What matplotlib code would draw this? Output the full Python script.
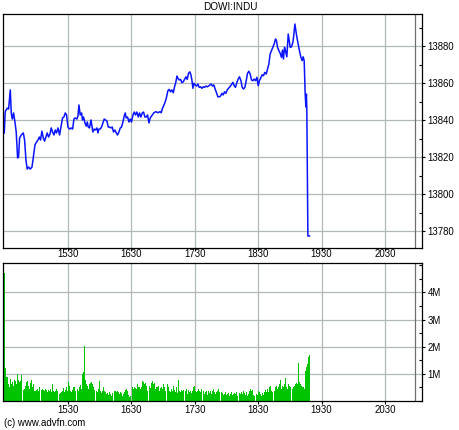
import numpy as np
import matplotlib
matplotlib.use("Agg")
import matplotlib.pyplot as plt
from matplotlib.ticker import FixedLocator, MultipleLocator, FuncFormatter

plt.rcParams['font.family'] = ['Liberation Sans', 'DejaVu Sans']

# ── data ──────────────────────────────────────────────────────────────────────
# price: minutes after 14:30, index level
price_t = [
    0.0, 0.9, 2.8, 4.1, 5.7, 6.6, 7.6, 8.8, 10.1, 11.3, 12.6, 13.5, 14.5, 16.1,
    18.0, 19.2, 20.5, 21.7, 23.0, 24.6, 26.2, 27.4, 29.0, 30.5, 31.9, 33.1, 34.3,
    35.6, 36.9, 38.1, 39.4, 40.6, 41.9, 43.2, 44.4, 45.7, 47.0, 48.2, 49.4, 50.8,
    52.3, 53.9, 55.1, 56.4, 57.7, 58.9, 60.2, 61.7, 63.3, 64.6, 65.9, 67.1, 68.7,
    69.7, 70.6, 71.8, 73.1, 74.0, 75.0, 76.3, 77.5, 78.5, 79.4, 80.6, 82.0, 82.9,
    83.8, 85.1, 86.3, 87.6, 88.6, 89.5, 90.7, 92.0, 93.3, 94.5, 95.8, 97.1, 98.3,
    99.5, 100.9, 102.1, 103.3, 104.6, 105.9, 107.1, 108.4, 109.7, 110.9, 112.2,
    113.4, 114.4, 115.3, 116.6, 117.9, 119.1, 120.3, 121.7, 122.9, 124.1, 125.4,
    126.7, 127.9, 129.2, 130.5, 131.7, 133.0, 134.2, 135.5, 136.8, 138.0, 139.2,
    140.6, 141.5, 143.4, 145.3, 147.2, 148.4, 149.6, 151.0, 152.2, 153.4, 154.7,
    156.0, 157.2, 158.5, 159.8, 161.0, 162.3, 163.3, 164.2, 165.4, 166.7, 168.0,
    169.2, 170.4, 171.8, 173.0, 174.2, 175.5, 176.5, 177.4, 178.4, 179.3, 180.5,
    181.8, 183.1, 184.3, 185.6, 186.9, 188.1, 189.3, 190.7, 191.9, 193.1, 194.5,
    195.7, 196.9, 198.2, 199.5, 200.7, 202.0, 203.2, 204.5, 205.8, 207.0, 208.3,
    209.6, 210.8, 212.0, 213.4, 214.7, 216.2, 217.4, 218.6, 220.0, 221.2, 222.4,
    223.8, 225.0, 226.2, 227.5, 228.8, 230.0, 231.3, 232.5, 233.8, 235.1, 236.3,
    237.6, 238.9, 240.1, 241.3, 242.7, 243.9, 245.1, 246.4, 247.7, 248.9, 250.2,
    251.4, 252.7, 254.0, 255.2, 256.5, 257.4, 258.4, 259.7, 260.9, 262.1, 263.1,
    264.0, 265.0, 265.9, 267.2, 268.5, 269.4, 270.4, 271.6, 272.9, 273.9, 274.8,
    275.7, 276.7, 277.9, 279.1, 280.5, 281.7, 282.6, 283.6, 284.5, 285.2, 285.7,
    286.1, 287.1, 288.6,
]
price_v = [
    13833.1, 13844.6, 13846.5, 13846.0, 13856.3, 13843.9, 13840.6, 13843.9,
    13839.0, 13833.6, 13819.6, 13820.1, 13830.4, 13832.0, 13833.1, 13829.3,
    13818.5, 13813.6, 13814.7, 13813.6, 13814.7, 13819.6, 13826.6, 13828.2,
    13829.3, 13830.9, 13829.3, 13834.1, 13830.4, 13828.7, 13830.9, 13833.1,
    13830.9, 13832.5, 13835.8, 13833.6, 13832.0, 13834.7, 13833.1, 13835.8,
    13832.0, 13837.4, 13841.2, 13841.7, 13843.9, 13842.8, 13836.3, 13835.2,
    13835.8, 13835.2, 13840.6, 13841.2, 13840.6, 13842.2, 13848.2, 13842.8,
    13843.9, 13840.1, 13841.7, 13838.5, 13836.8, 13839.0, 13836.3, 13835.8,
    13840.1, 13836.8, 13833.6, 13835.2, 13834.7, 13835.8, 13833.1, 13835.2,
    13835.2, 13836.3, 13838.5, 13840.6, 13840.1, 13839.5, 13836.3, 13836.3,
    13835.8, 13836.3, 13833.6, 13834.7, 13833.1, 13832.0, 13833.6, 13835.8,
    13836.3, 13839.0, 13842.2, 13843.9, 13841.2, 13841.7, 13839.0, 13840.6,
    13839.0, 13842.8, 13844.4, 13842.8, 13844.4, 13841.7, 13843.9, 13841.7,
    13843.9, 13844.4, 13841.7, 13841.7, 13842.8, 13838.5, 13841.2, 13842.2,
    13843.3, 13844.0, 13844.6, 13844.0, 13844.6, 13844.0, 13846.4, 13848.2,
    13849.9, 13852.3, 13855.9, 13856.6, 13855.3, 13856.3, 13854.8, 13858.0,
    13860.7, 13863.8, 13862.6, 13861.7, 13862.0, 13860.2, 13860.7, 13862.0,
    13863.4, 13862.0, 13865.3, 13866.1, 13864.4, 13861.7, 13857.2, 13859.9,
    13859.0, 13858.4, 13859.5, 13857.7, 13858.0, 13857.2, 13858.0, 13857.7,
    13858.4, 13858.0, 13858.4, 13859.0, 13859.5, 13858.4, 13859.0, 13856.6,
    13854.8, 13852.6, 13852.6, 13853.0, 13854.5, 13853.6, 13855.3, 13854.5,
    13856.3, 13857.2, 13858.0, 13859.1, 13860.4, 13858.6, 13857.7, 13860.4,
    13862.2, 13863.4, 13861.3, 13857.7, 13856.8, 13857.7, 13861.3, 13865.3,
    13866.4, 13864.9, 13861.7, 13861.3, 13862.2, 13861.3, 13863.1, 13858.6,
    13861.3, 13863.1, 13864.5, 13864.0, 13865.8, 13864.9, 13867.6, 13870.3,
    13875.7, 13877.5, 13879.3, 13881.1, 13883.8, 13882.9, 13879.3, 13877.5,
    13876.1, 13873.9, 13877.8, 13873.0, 13879.3, 13877.5, 13874.2, 13886.5,
    13882.9, 13879.3, 13879.6, 13882.0, 13886.5, 13891.9, 13888.3, 13884.7,
    13881.1, 13877.5, 13873.9, 13872.1, 13874.2, 13872.1, 13854.6, 13847.1,
    13854.1, 13845.5, 13777.5, 13777.5,
]

# volume per bar (millions), bars run from 14:30 to about 19:18
volume_m = [
    4.7, 1.2, 0.9, 0.9, 0.63, 0.5, 0.81, 0.63, 0.69, 0.57, 0.78, 0.73, 0.63, 1.0,
    0.78, 0.69, 0.75, 0.94, 0, 0.41, 0.44, 0.57, 0.69, 0.73, 0.57, 0.44, 0.65,
    0.78, 0.5, 0.63, 0.38, 0.36, 0.41, 0.44, 0.38, 0.5, 0, 0.41, 0.44, 0.41,
    0.36, 0.44, 0.41, 0.32, 0.41, 0.36, 0.44, 0.32, 0.63, 0.38, 0.32, 0.38,
    0.44, 0.38, 0, 0.26, 0.28, 0.32, 0.38, 0.48, 0.32, 0.41, 0.5, 0.38, 0.69,
    0.57, 0.38, 0.32, 0.41, 0.5, 0.53, 0.38, 0, 0.44, 0.38, 0.5, 0.6, 0.44,
    1.0, 1.06, 2.01, 0.78, 0.63, 0.57, 0.44, 0.63, 0.65, 0.69, 0.63, 0.5, 0.41,
    0, 0.38, 0.32, 0.44, 0.73, 0.38, 0.28, 0.38, 0.5, 0.38, 0.32, 0.26, 0.28,
    0.23, 0.32, 0.26, 0.2, 0.28, 0, 0.36, 0.38, 0.32, 0.36, 0.32, 0.26, 0.32,
    0.28, 0.2, 0.26, 0.32, 0.41, 0.44, 0.38, 0.23, 0.16, 0.2, 0, 0.5, 0.44,
    0.53, 0.48, 0.44, 0.63, 0.53, 0.5, 0.44, 0.5, 0.73, 0.69, 0.63, 0.65, 0.57,
    0.38, 0, 0.57, 0.48, 0.65, 0.75, 0.63, 0.65, 0.44, 0.5, 0.5, 0.55, 0.38,
    0.48, 0.5, 0.44, 0.63, 0.5, 0.38, 0, 0.63, 0.53, 0.38, 0.32, 0.44, 0.38,
    0.57, 0.41, 0.32, 0.5, 0.28, 0.78, 0.38, 0.32, 0.41, 0.36, 0.41, 0, 0.38,
    0.44, 0.26, 0.41, 0.32, 0.38, 0.28, 0.38, 0.5, 0.57, 0.38, 0.32, 0.38,
    0.44, 0.38, 0.32, 0.44, 0, 0.38, 0.26, 0.32, 0.38, 0.23, 0.38, 0.28, 0.36,
    0.26, 0.38, 0.44, 0.32, 0.26, 0.32, 0.38, 0.44, 0.32, 0, 0.32, 0.28, 0.23,
    0.26, 0.32, 0.23, 0.26, 0.28, 0.2, 0.26, 0.32, 0.23, 0.26, 0.28, 0.26,
    0.32, 0.2, 0, 0.28, 0.26, 0.32, 0.26, 0.36, 0.28, 0.23, 0.32, 0.2, 0.26,
    0.38, 0.44, 0.38, 0.41, 0.23, 0.2, 0, 0.26, 0.23, 0.38, 0.32, 0.26, 0.2,
    0.28, 0.23, 0.32, 0.41, 0.32, 0.44, 0.32, 0.5, 0.57, 0.38, 0.32, 0, 0.38,
    0.5, 0.57, 0.44, 0.5, 0.63, 0.78, 0.44, 0.57, 0.5, 0.63, 0.85, 0.5, 0.44,
    0.63, 0.57, 0.5, 0, 0.44, 0.5, 0.57, 0.63, 0.65, 0.63, 1.4, 0.69, 0.63,
    0.57, 0.53, 0.5, 0.44, 1.12, 1.27, 1.37, 1.62, 1.69,
]
vol_end_min = 288.6

tick_min = [60, 120, 180, 240, 300, 360]
tick_lbl = ['1530', '1630', '1730', '1830', '1930', '2030']
price_ticks = [13780, 13800, 13820, 13840, 13860, 13880]
vol_ticks = [1, 2, 3, 4]
close_min = 388  # session end marker

# ── figure ────────────────────────────────────────────────────────────────────
W, H = 460, 430
fig = plt.figure(figsize=(W / 100, H / 100), dpi=100)
ax1 = fig.add_axes([3 / W, 1 - 248 / H, 419 / W, 234 / H])
ax2 = fig.add_axes([3 / W, 1 - 401 / H, 419 / W, 138 / H])

xlim = (-1.2, 395)
grid_c = '#b0b8b8'
fs = 6.9

for ax in (ax1, ax2):
    ax.set_xlim(*xlim)
    ax.xaxis.set_major_locator(FixedLocator(tick_min))
    ax.grid(True, color=grid_c, lw=0.9)
    ax.set_axisbelow(True)
    ax.axvline(close_min, color='#707070', lw=0.9, zorder=1)
    ax.yaxis.tick_right()
    ax.tick_params(axis='y', which='major', direction='out', length=2.5,
                   width=0.8, pad=1.5, labelsize=fs)
    ax.tick_params(axis='y', which='minor', direction='in', length=2, width=0.8)
    ax.tick_params(axis='x', direction='out', length=2, width=0.8, labelsize=fs, pad=1)
    for s in ax.spines.values():
        s.set_linewidth(0.9)

# price panel
ax1.plot(price_t, price_v, color='#0a14ff', lw=1.1)
ax1.set_ylim(13771, 13897.3)
ax1.yaxis.set_major_locator(FixedLocator(price_ticks))
ax1.yaxis.set_minor_locator(MultipleLocator(10))
ax1.tick_params(axis='x', labelbottom=False)
fig.text(230 / W, 1 - 7 / H, 'DOWI:INDU', fontsize=fs + 0.3, ha='center', va='center')

# volume panel
n = len(volume_m)
step = vol_end_min / (n - 1)
vol_t = np.arange(n) * step
ax2.bar(vol_t, volume_m, width=step, align='edge', color='#00c400', lw=0)
ax2.set_ylim(0, 5.08)
ax2.yaxis.set_major_locator(FixedLocator(vol_ticks))
ax2.yaxis.set_minor_locator(MultipleLocator(0.5))
ax2.yaxis.set_major_formatter(FuncFormatter(lambda v, p: f'{int(round(v))}M'))
ax2.xaxis.set_ticklabels(tick_lbl)
ax2.tick_params(axis='x', labeltop=True, labelbottom=True)

fig.text(4 / W, 1 - 423 / H, '(c) www.advfn.com', fontsize=fs, va='center', ha='left')

fig.savefig('out.png', dpi=100)
